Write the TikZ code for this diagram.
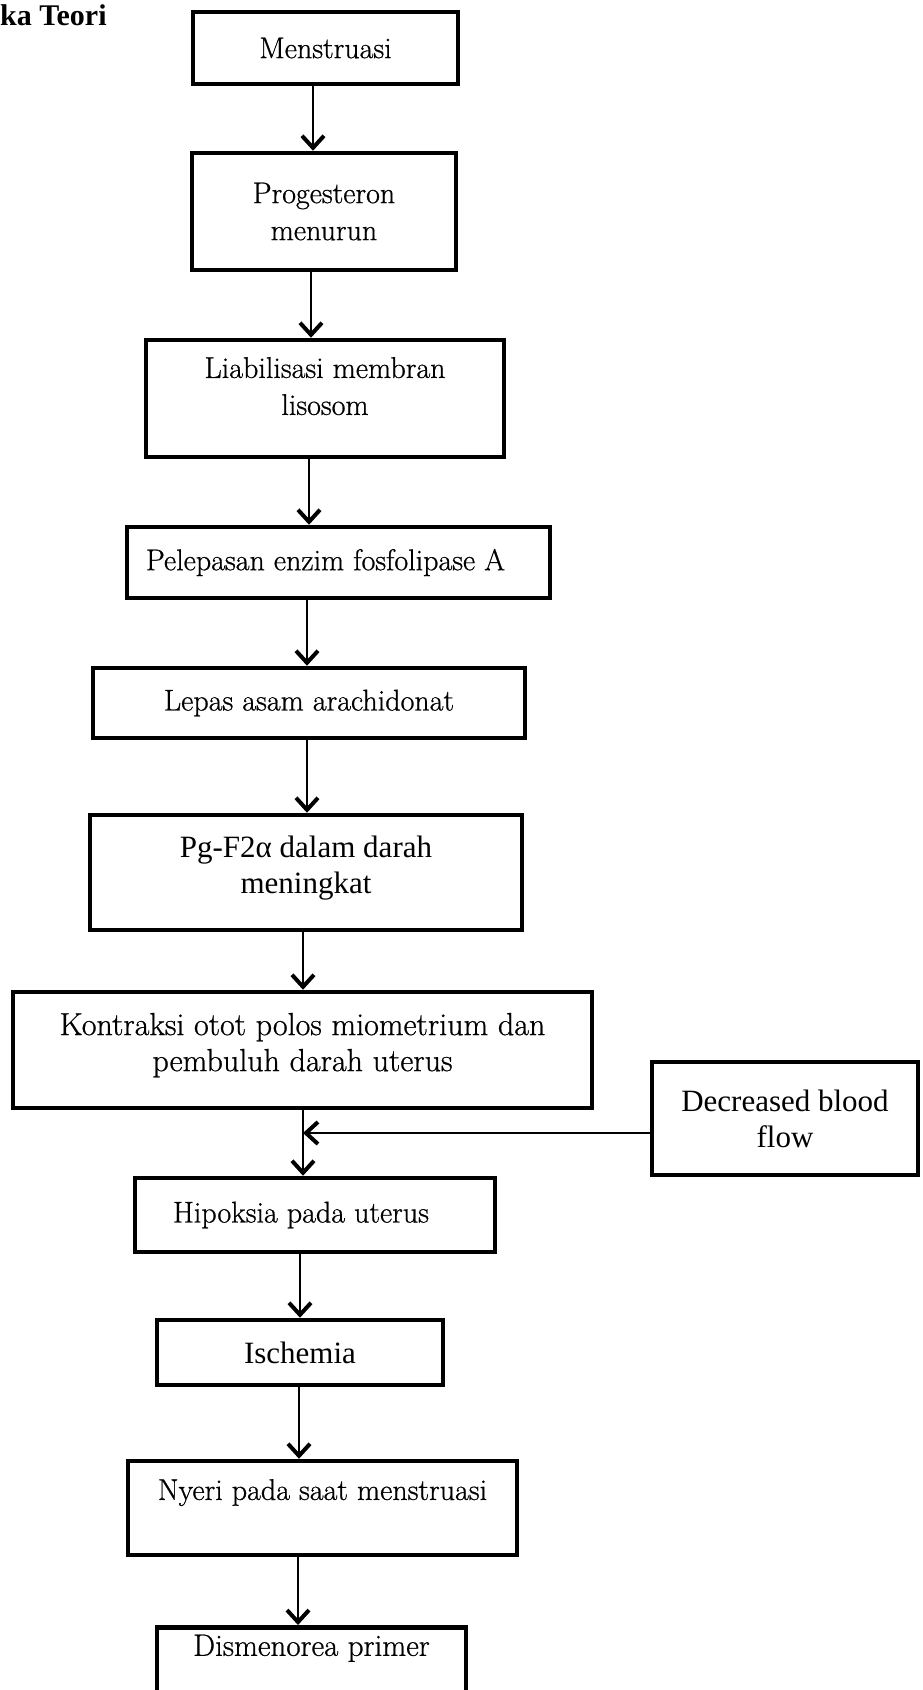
\documentclass[tikz,border=0pt]{standalone}
\usepackage{fontspec}
\setmainfont{Latin Modern Roman}[FakeBold=0.7]
\newfontfamily\tms{Liberation Serif}
\usetikzlibrary{arrows.meta}
\begin{document}
\begin{tikzpicture}[x=1pt,y=-1pt,
  box/.style={draw=black, line width=4.5pt, inner sep=0pt, align=center, font=\fontsize{30}{37}\selectfont},
  tbox/.style={box, font=\tms\fontsize{31}{36}\selectfont},
  arr/.style={line width=2pt, -{Straight Barb[length=12pt,width=22pt,line width=4pt]}},
]
\useasboundingbox (0,0) rectangle (923,1690);
\clip (0,0) rectangle (923,1690);
\node[anchor=base west, inner sep=0pt, font=\tms\bfseries\fontsize{30}{36}\selectfont] (title) at (0,25) {ka Teori};

\node[box, minimum width=265pt, minimum height=72pt] (m1) at (325.5,48) {Menstruasi};
\node[box, minimum width=264pt, minimum height=117pt] (m2) at (324,211.5) {Progesteron\\menurun};
\node[box, minimum width=358pt, minimum height=117pt] (m3) at (325,398.5) {Liabilisasi membran\\lisosom\\[-12pt]\mbox{}};
\node[box, minimum width=423pt, minimum height=71pt] (m4) at (338.5,562.5) {Pelepasan enzim fosfolipase A\hspace*{26pt}};
\node[box, minimum width=432pt, minimum height=70pt] (m5) at (309,703) {Lepas asam arachidonat};
\node[tbox, minimum width=432pt, minimum height=115pt] (m6) at (306,872.5) {Pg-F2α dalam darah\\meningkat\\[-20pt]\mbox{}};
\node[box, font=\fontsize{32}{36}\selectfont, minimum width=579pt, minimum height=116pt] (m7) at (302.5,1050) {Kontraksi otot polos miometrium dan\\pembuluh darah uterus\\[-20pt]\mbox{}};
\node[box, minimum width=360pt, minimum height=74pt] (m8) at (315,1215) {Hipoksia pada uterus\hspace*{28pt}};
\node[tbox, minimum width=286pt, minimum height=65pt] (m9) at (300,1352.5) {Ischemia};
\node[box, minimum width=389pt, minimum height=94pt] (m10) at (322.5,1508) {Nyeri pada saat menstruasi\\\mbox{}};
\node[box, font=\fontsize{31}{37}\selectfont, anchor=north, minimum width=309pt, minimum height=110pt] (m11) at (311.5,1625) {Dismenorea primer\\\mbox{}\\\mbox{}};
\node[tbox, minimum width=266pt, minimum height=113pt] (d) at (785,1118.5) {Decreased blood\\flow};

\draw[arr] (313,0 |- m1.south) -- (313,0 |- m2.north);
\draw[arr] (311,0 |- m2.south) -- (311,0 |- m3.north);
\draw[arr] (309,0 |- m3.south) -- (309,0 |- m4.north);
\draw[arr] (307,0 |- m4.south) -- (307,0 |- m5.north);
\draw[arr] (307,0 |- m5.south) -- (307,0 |- m6.north);
\draw[arr] (303,0 |- m6.south) -- (303,0 |- m7.north);
\draw[arr] (303,0 |- m7.south) -- (303,0 |- m8.north);
\draw[arr] (300,0 |- m8.south) -- (300,0 |- m9.north);
\draw[arr] (299,0 |- m9.south) -- (299,0 |- m10.north);
\draw[arr] (298,0 |- m10.south) -- (298,0 |- m11.north);
\coordinate (j) at (303,1133);
\draw[arr] (d.west |- j) -- (j);
\end{tikzpicture}
\end{document}
